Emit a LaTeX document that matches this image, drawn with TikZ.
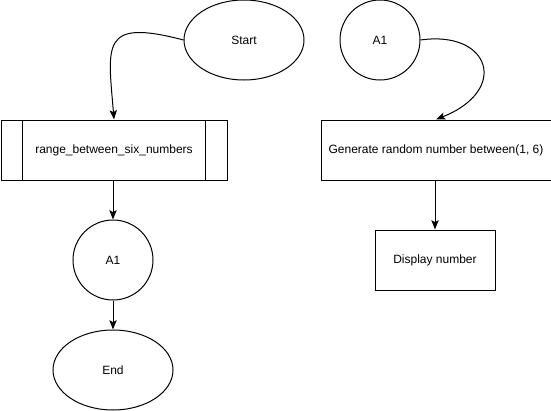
\documentclass[tikz,border=0pt]{standalone}
\usepackage{fontspec}
\setmainfont{Liberation Sans}
\usetikzlibrary{shapes.geometric,arrows.meta}
\begin{document}
\begin{tikzpicture}[x=0.75pt,y=-0.75pt,
  every node/.style={font=\fontsize{9}{11}\selectfont, line width=0.75pt},
  ell/.style={draw, ellipse, minimum width=90pt, minimum height=60pt, inner sep=0pt},
  circ/.style={draw, circle, minimum size=60pt, inner sep=0pt},
  box/.style={draw, rectangle, inner sep=0pt},
  conn/.style={line width=0.75pt, -{Stealth[length=7pt,width=5.5pt,inset=1.5pt]}}]
\useasboundingbox (0,0) rectangle (551,411);
\node[ell] (start) at (244,40) {Start};
\node[box, minimum width=169.5pt, minimum height=45pt] (proc) at (114,150) {range\_between\_six\_numbers};
\draw[line width=0.75pt] ([xshift=16.5pt]proc.north west) -- ([xshift=16.5pt]proc.south west);
\draw[line width=0.75pt] ([xshift=-16.5pt]proc.north east) -- ([xshift=-16.5pt]proc.south east);
\node[circ] (a1l) at (113,260) {A1};
\node[ell] (end) at (113,370) {End};
\node[circ] (a1r) at (380,40) {A1};
\node[box, minimum width=172.5pt, minimum height=45pt] (gen) at (436,150) {Generate random number between(1, 6)};
\node[box, minimum width=90pt, minimum height=45pt] (disp) at (435,260) {Display number};
\draw[conn] (start.west) .. controls (100,18) and (108,45) .. (proc.north);
\draw[conn] (proc.south -| a1l.north) -- (a1l.north);
\draw[conn] (a1l.south) -- (end.north);
\draw[conn] (a1r.east) .. controls (490,30) and (510,90) .. (gen.north);
\draw[conn] (gen.south -| disp.north) -- (disp.north);
\end{tikzpicture}
\end{document}
